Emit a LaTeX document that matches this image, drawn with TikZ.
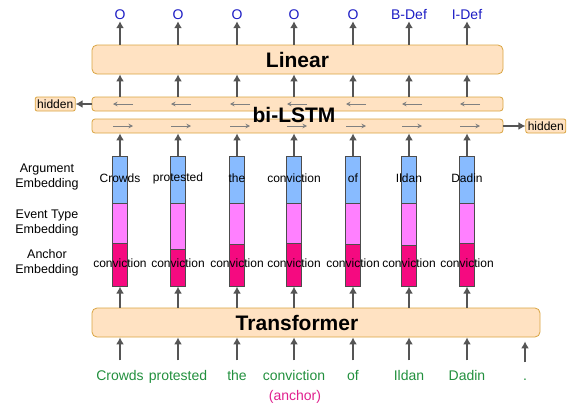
\documentclass[tikz,border=0pt]{standalone}
\usepackage{fontspec}
\setmainfont{Liberation Sans}
\setsansfont{Liberation Sans}
\usetikzlibrary{arrows.meta, positioning, calc}
\definecolor{sgray}{HTML}{555555}
\definecolor{speach}{HTML}{FFE2C2}
\definecolor{sedge}{HTML}{D9A441}
\definecolor{sblue}{HTML}{88BBFF}
\definecolor{spink}{HTML}{FF80FF}
\definecolor{smag}{HTML}{F50A80}
\definecolor{sgreen}{HTML}{22903E}
\definecolor{sout}{HTML}{1C1CC4}
\definecolor{sanch}{HTML}{E0208E}
\tikzset{
  >=Latex,
  layer/.style={
    draw=sedge, fill=speach, line width=0.8pt,
    rounded corners=#1, minimum width=411pt, inner sep=0pt
  },
  layer/.default=5pt,
  tag/.style={
    draw=sedge, fill=speach, line width=0.8pt, rounded corners=2pt,
    minimum height=14pt, inner xsep=2pt, inner ysep=1pt,
    font=\fontsize{12}{14}\selectfont
  },
  slot/.style={draw=black!70, fill=#1, line width=0.6pt, minimum width=15pt, inner sep=0pt},
  arr/.style={-{Latex[length=7pt,width=8pt]}, line width=1.9pt, draw=sgray},
  dir/.style={-{Stealth[length=4.5pt,width=4.5pt]}, line width=0.9pt, draw=gray},
  big/.style={font=\fontsize{21}{24}\selectfont\bfseries},
  word/.style={font=\fontsize{12}{14}\selectfont, inner sep=0pt},
  tok/.style={font=\fontsize{14}{16}\selectfont, text=#1, text height=10pt, text depth=3pt, inner sep=2pt},
  side/.style={font=\fontsize{12.5}{15}\selectfont, align=center}
}
\begin{document}
\begin{tikzpicture}[x=1pt,y=-1pt]
  \useasboundingbox (0,0) rectangle (571,407);

  % layers
  \node[layer, minimum height=29pt, big] (lin) at (297.5,59.5) {Linear};
  \node[layer=3pt, minimum height=14pt] (bwd) at (297.5,104) {};
  \node[layer=3pt, minimum height=14pt] (fwd) at (297.5,126) {};
  \node[layer, minimum width=448pt, minimum height=29pt] (trans) at (316,322.5) {};
  \node[big] (tlab) at (297,323) {Transformer};

  \node[tag, left=16pt of bwd] (hl) {hidden};
  \node[tag, right=22pt of fwd] (hr) {hidden};
  \draw[arr] (bwd.west) -- (hl.east);
  \draw[arr] (fwd.east) -- (hr.west);

  % left labels
  \node[side] (sa) at (47,177) {Argument\\Embedding};
  \node[side] (se) at (47,223) {Event Type\\Embedding};
  \node[side] (sc) at (47,263) {Anchor\\Embedding};

  % columns
  \foreach \i/\x/\cut/\arg/\out in {1/120/243/Crowds/O, 2/178/249/protested/O,
      3/237/244/the/O, 4/294/243/conviction/O, 5/353/244/of/O,
      6/409/245/Ildan/B-Def, 7/467/243/Dadin/I-Def} {
    \node[slot=sblue, anchor=north, minimum height=47pt] (a\i) at (\x,156) {};
    \node[slot=spink, anchor=north, minimum height={\cut-203}] (e\i) at (\x,203) {};
    \node[slot=smag, anchor=north, minimum height={286-\cut}] (c\i) at (\x,\cut) {};
    \node[word] (aw\i) at (\x,178) {\arg};
    \node[word] (cw\i) at (\x,263) {conviction};
    \node[tok=sout, text depth=0pt] (o\i) at (\x,14) {\out};
    \node[tok=sgreen] (w\i) at (\x,377) {\arg};
    \draw[arr] (a\i.north) -- (a\i |- fwd.south);
    \draw[arr] (a\i |- bwd.north) -- (a\i |- lin.south);
    \draw[arr] (a\i |- lin.north) -- (o\i.south);
    \draw[arr] (a\i |- trans.north) -- (c\i.south);
    \draw[arr] ([yshift=8pt]w\i.north) -- (w\i |- trans.south);
    \draw[dir] ($(a\i |- bwd.center)+(13,0)$) -- ($(a\i |- bwd.center)+(-7,0)$);
    \draw[dir] ($(a\i |- fwd.center)+(-7,0)$) -- ($(a\i |- fwd.center)+(13,0)$);
  }
  \node[big] (bil) at (294,115) {bi-LSTM};

  \node[tok=sgreen] (w8) at (525,377) {.};
  \coordinate (w8top) at ($(w8 |- trans.south)+(0,4)$);
  \draw[arr] ([yshift=6pt]w8.north) -- (w8top);
  \node[tok=sanch] (anc) at (295,397) {(anchor)};
\end{tikzpicture}
\end{document}
